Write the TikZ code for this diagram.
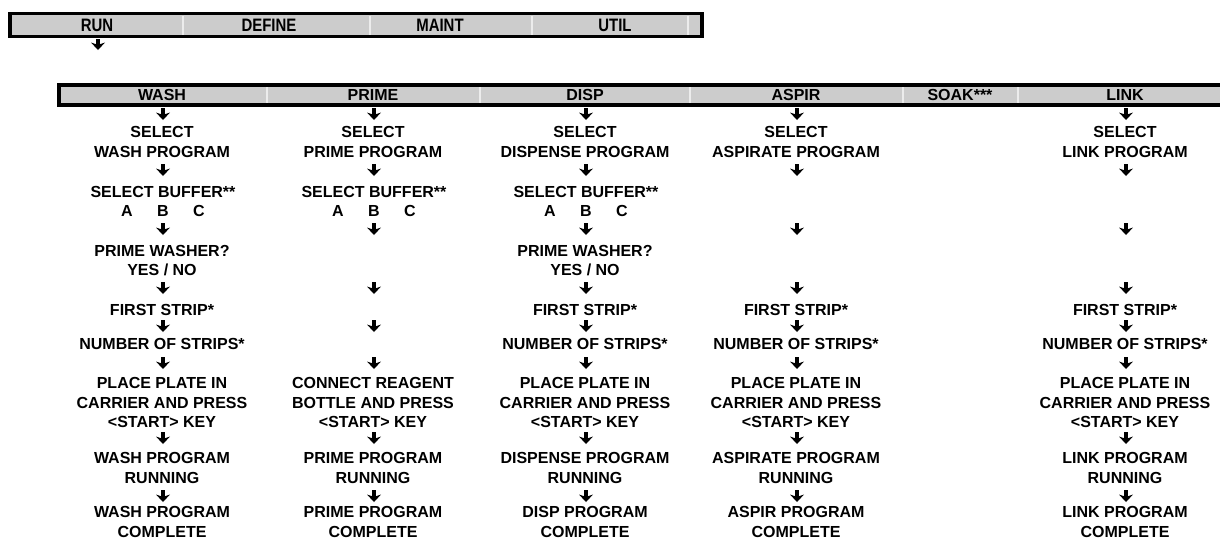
\documentclass[tikz,border=0pt]{standalone}
\usepackage{graphicx}
\usepackage{fontspec}
\setmainfont{Liberation Sans}
\usetikzlibrary{arrows.meta}
\definecolor{barfill}{RGB}{204,204,204}
\definecolor{barsep}{RGB}{236,236,236}
\newcommand\hdtxt[1]{\scalebox{0.83}[1]{#1}}
\newcommand\abcrow{\makebox[27pt]{A}\makebox[27pt]{B}\makebox[27pt]{C}}
\begin{document}
\begin{tikzpicture}[x=0.75pt,y=-0.75pt,
  body/.style={font=\bfseries\fontsize{12}{14.6}\selectfont, align=center, inner sep=0pt},
  tophead/.style={font=\bfseries\fontsize{13.5}{15}\selectfont, inner sep=0pt},
  colhead/.style={font=\bfseries\fontsize{12}{13}\selectfont, inner sep=0pt},
  barbody/.style={fill=barfill},
  barframe/.style={draw=black, line width=2.6pt},
  barsepline/.style={draw=barsep, line width=1.1pt},
  dnarrow/.style={line width=3.3pt, -{Stealth[length=5.6pt,width=10.5pt,inset=1.7pt,line width=0pt]}},
]
\useasboundingbox (0,0) rectangle (1220,540);
\clip (0,0) rectangle (1220,540);

% ---------- top menu bar ----------
\path[barbody] (10,13.5) rectangle (702,36.5);
\foreach \sx in {183,370,532,688} \draw[barsepline] (\sx,15.5) -- (\sx,34.5);
\draw[barframe] (10,13.5) rectangle (702,36.5);
\node[tophead] (run) at (97,25) {\hdtxt{RUN}};
\node[tophead] (define) at (269,25) {\hdtxt{DEFINE}};
\node[tophead] (maint) at (440,25) {\hdtxt{MAINT}};
\node[tophead] (util) at (615,25) {\hdtxt{UTIL}};
\coordinate (run-as) at (98,39);
\coordinate (run-ae) at (98,50);
\draw[dnarrow] (run-as) -- (run-ae);

% ---------- RUN sub-menu bar ----------
\path[barbody] (59,85) rectangle (1240,105);
\foreach \sx in {267,480,690,903,1018} \draw[barsepline] (\sx,87) -- (\sx,103);
\draw[barframe, line width=3pt] (59,85) rectangle (1240,105);
\node[colhead] (h-wash) at (162,95) {WASH};
\node[colhead] (h-prime) at (373,95) {PRIME};
\node[colhead] (h-disp) at (585,95) {DISP};
\node[colhead] (h-aspir) at (796,95) {ASPIR};
\node[colhead] (h-soak) at (960,95) {SOAK***};
\node[colhead] (h-link) at (1125,95) {LINK};

% ---------- arrows ----------
\foreach \cx/\cn in {163/wash,374/prime,586/disp,797/aspir,1126/link}{
  \foreach \ry [count=\k] in {114,170,229,288,326,363,438,496}{
    \coordinate (\cn-a\k-s) at (\cx,\ry-6);
    \coordinate (\cn-a\k-e) at (\cx,\ry+6);
    \draw[dnarrow] (\cn-a\k-s) -- (\cn-a\k-e);
  }
}

% ---------- WASH ----------
\node[body] (wash-sel) at (162,142) {SELECT\\WASH PROGRAM};
\node[body] (wash-buf) at (163,201.5) {SELECT BUFFER**\\\abcrow};
\node[body] (wash-pw) at (162,260.5) {PRIME WASHER?\\YES / NO};
\node[body] (wash-fs) at (162,310) {FIRST STRIP*};
\node[body] (wash-ns) at (162,344) {NUMBER OF STRIPS*};
\node[body] (wash-pl) at (162,402.5) {PLACE PLATE IN\\CARRIER AND PRESS\\<START> KEY};
\node[body] (wash-run) at (162,468) {WASH PROGRAM\\RUNNING};
\node[body] (wash-done) at (162,522) {WASH PROGRAM\\COMPLETE};

% ---------- PRIME ----------
\node[body] (prime-sel) at (373,142) {SELECT\\PRIME PROGRAM};
\node[body] (prime-buf) at (374,201.5) {SELECT BUFFER**\\\abcrow};
\node[body] (prime-con) at (373,402.5) {CONNECT REAGENT\\BOTTLE AND PRESS\\<START> KEY};
\node[body] (prime-run) at (373,468) {PRIME PROGRAM\\RUNNING};
\node[body] (prime-done) at (373,522) {PRIME PROGRAM\\COMPLETE};

% ---------- DISP ----------
\node[body] (disp-sel) at (585,142) {SELECT\\DISPENSE PROGRAM};
\node[body] (disp-buf) at (586,201.5) {SELECT BUFFER**\\\abcrow};
\node[body] (disp-pw) at (585,260.5) {PRIME WASHER?\\YES / NO};
\node[body] (disp-fs) at (585,310) {FIRST STRIP*};
\node[body] (disp-ns) at (585,344) {NUMBER OF STRIPS*};
\node[body] (disp-pl) at (585,402.5) {PLACE PLATE IN\\CARRIER AND PRESS\\<START> KEY};
\node[body] (disp-run) at (585,468) {DISPENSE PROGRAM\\RUNNING};
\node[body] (disp-done) at (585,522) {DISP PROGRAM\\COMPLETE};

% ---------- ASPIR ----------
\node[body] (aspir-sel) at (796,142) {SELECT\\ASPIRATE PROGRAM};
\node[body] (aspir-fs) at (796,310) {FIRST STRIP*};
\node[body] (aspir-ns) at (796,344) {NUMBER OF STRIPS*};
\node[body] (aspir-pl) at (796,402.5) {PLACE PLATE IN\\CARRIER AND PRESS\\<START> KEY};
\node[body] (aspir-run) at (796,468) {ASPIRATE PROGRAM\\RUNNING};
\node[body] (aspir-done) at (796,522) {ASPIR PROGRAM\\COMPLETE};

% ---------- LINK ----------
\node[body] (link-sel) at (1125,142) {SELECT\\LINK PROGRAM};
\node[body] (link-fs) at (1125,310) {FIRST STRIP*};
\node[body] (link-ns) at (1125,344) {NUMBER OF STRIPS*};
\node[body] (link-pl) at (1125,402.5) {PLACE PLATE IN\\CARRIER AND PRESS\\<START> KEY};
\node[body] (link-run) at (1125,468) {LINK PROGRAM\\RUNNING};
\node[body] (link-done) at (1125,522) {LINK PROGRAM\\COMPLETE};
\end{tikzpicture}
\end{document}
